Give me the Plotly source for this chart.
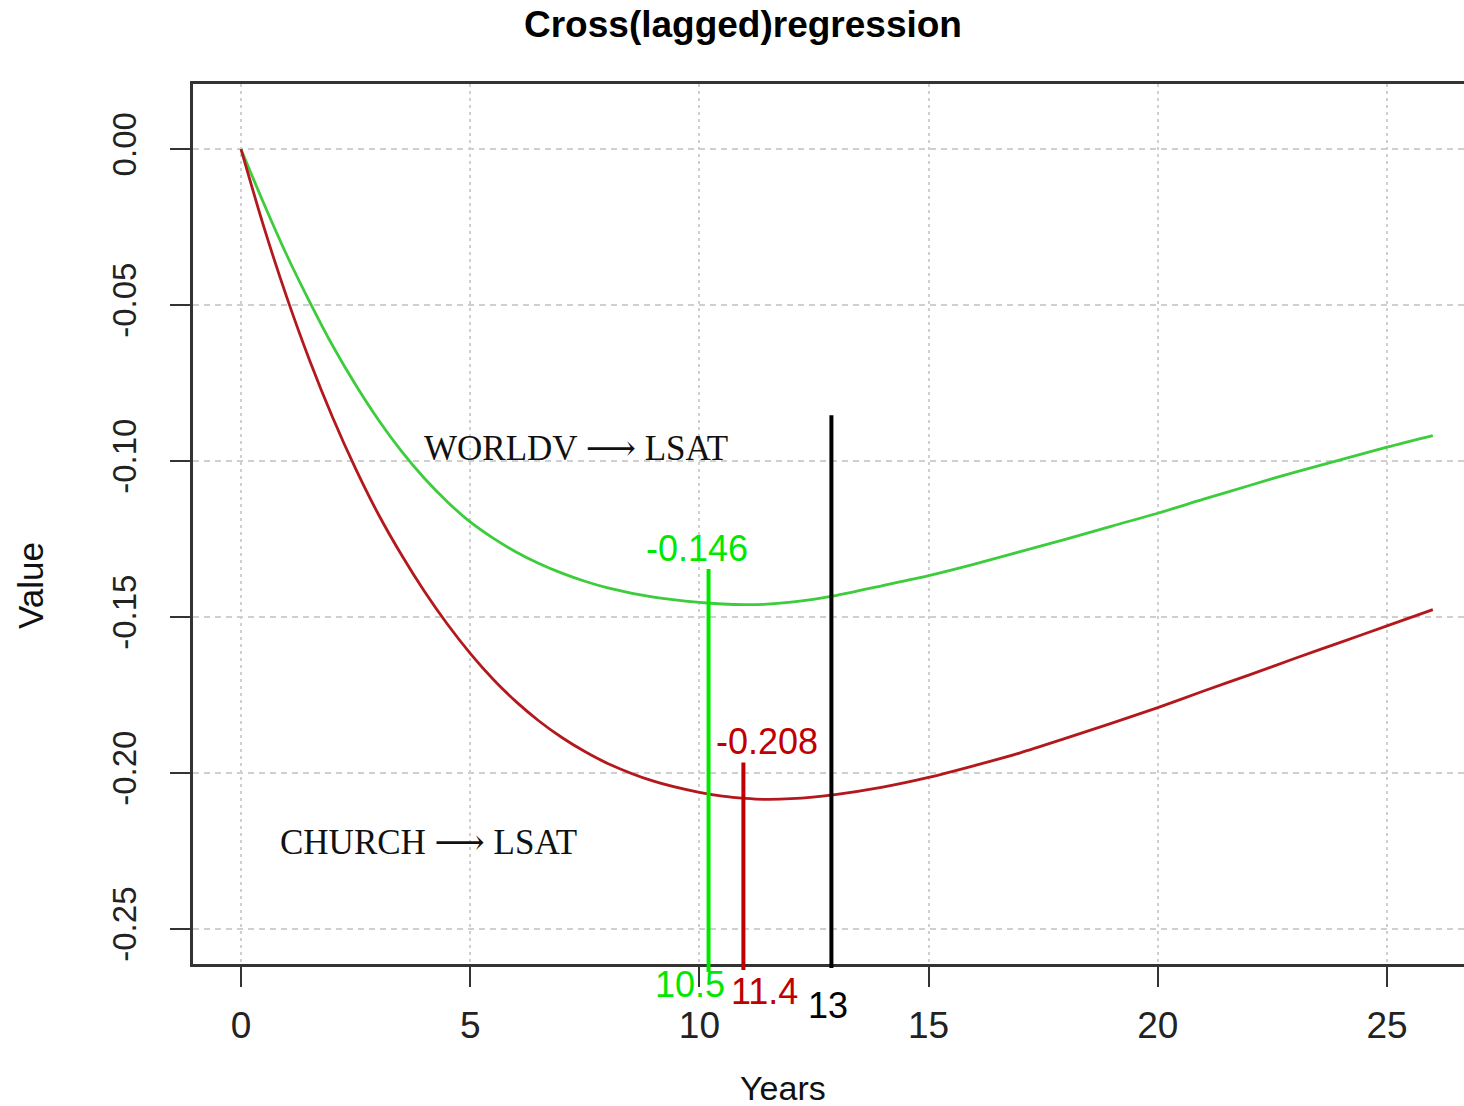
import plotly.graph_objects as go

# ---------------- data ----------------
years = [0, 0.5, 1, 1.5, 2, 2.5, 3, 3.5, 4, 4.5, 5, 5.5, 6, 6.5, 7, 7.5, 8, 9, 10,
         10.5, 11, 11.4, 12, 13, 14, 15, 16, 17, 18, 19, 20, 21, 22, 23, 24, 25, 26]

worldv_lsat = [0.0, -0.0175, -0.0340, -0.0490, -0.0630, -0.0755, -0.0868,
               -0.0968, -0.1055, -0.1130, -0.1195, -0.1247, -0.1291, -0.1328,
               -0.1359, -0.1385, -0.1406, -0.1436, -0.1453, -0.1458, -0.1460,
               -0.1459, -0.1452, -0.1430, -0.1399, -0.1367, -0.1330, -0.1290,
               -0.1250, -0.1208, -0.1167, -0.1122, -0.1078, -0.1035, -0.0995,
               -0.0955, -0.0918]

church_lsat = [0.0, -0.0250, -0.0475, -0.0678, -0.0860, -0.1024, -0.1171,
               -0.1300, -0.1417, -0.1522, -0.1616, -0.1699, -0.1771, -0.1833,
               -0.1886, -0.1931, -0.1969, -0.2026, -0.2062, -0.2074, -0.2081,
               -0.2084, -0.2082, -0.2068, -0.2045, -0.2014, -0.1976, -0.1935,
               -0.1888, -0.1840, -0.1790, -0.1737, -0.1685, -0.1632, -0.1580,
               -0.1528, -0.1476]

x_ticks = [0, 5, 10, 15, 20, 25]
x_tick_labels = ["0", "5", "10", "15", "20", "25"]
y_ticks = [0.0, -0.05, -0.10, -0.15, -0.20, -0.25]
y_tick_labels = ["0.00", "-0.05", "-0.10", "-0.15", "-0.20", "-0.25"]

# marker lines (as drawn in the picture) and their labels
marker_x = [10.2, 10.96, 12.88]
marker_top = [-0.1346, -0.1966, -0.0853]
marker_colors = ["#00e800", "#c00000", "#000000"]
marker_labels = ["10.5", "11.4", "13"]
marker_label_x = [9.80, 11.41, 12.81]
min_labels = ["-0.146", "-0.208"]
min_label_x = [9.95, 11.47]
min_label_y = [-0.128, -0.1898]

X_RANGE = [-1.047, 26.68]
Y_RANGE = [-0.2612, 0.0209]

W, H = 1464, 1106
ML, MR, MT, MB = 193, 0, 84, 142
PH = H - MT - MB


def ypaper_from_px(py):
    return (H - MB - py) / PH


def ypaper_from_val(v):
    return (v - Y_RANGE[0]) / (Y_RANGE[1] - Y_RANGE[0])


SANS = "Liberation Sans, Arial, Helvetica, sans-serif"
SERIF = "Liberation Serif, Times New Roman, DejaVu Serif, serif"

fig = go.Figure()
fig.add_trace(go.Scatter(x=years, y=worldv_lsat, mode="lines",
                         line=dict(color="#3ccc3c", width=2.8, shape="spline", smoothing=0.8),
                         name="WORLDV → LSAT", showlegend=False))
fig.add_trace(go.Scatter(x=years, y=church_lsat, mode="lines",
                         line=dict(color="#b3191c", width=2.8, shape="spline", smoothing=0.8),
                         name="CHURCH → LSAT", showlegend=False))

bottoms_px = [972, 970, 968]
for mx, top, col, bpx in zip(marker_x, marker_top, marker_colors, bottoms_px):
    fig.add_shape(type="line", xref="x", yref="paper",
                  x0=mx, x1=mx, y0=ypaper_from_px(bpx), y1=ypaper_from_val(top),
                  line=dict(color=col, width=4), layer="above")

label_y_px = [984, 991, 1005]
for lab, lx, col, lpy in zip(marker_labels, marker_label_x, marker_colors, label_y_px):
    fig.add_annotation(x=lx, y=ypaper_from_px(lpy), xref="x", yref="paper",
                       text=lab, showarrow=False, borderpad=0,
                       font=dict(family=SANS, size=36, color=col),
                       xanchor="center", yanchor="middle")

for lab, lx, ly, col in zip(min_labels, min_label_x, min_label_y, marker_colors[:2]):
    fig.add_annotation(x=lx, y=ly, xref="x", yref="y", text=lab, showarrow=False,
                       font=dict(family=SANS, size=36, color=col),
                       xanchor="center", yanchor="middle")

fig.add_annotation(x=7.31, y=-0.0959, xref="x", yref="y", text="WORLDV ⟶ LSAT",
                   showarrow=False, font=dict(family=SERIF, size=35, color="#111"),
                   xanchor="center", yanchor="middle")
fig.add_annotation(x=4.08, y=-0.2222, xref="x", yref="y", text="CHURCH ⟶ LSAT",
                   showarrow=False, font=dict(family=SERIF, size=35, color="#111"),
                   xanchor="center", yanchor="middle")

# axis titles and main title
fig.add_annotation(x=(783 - ML) / (W - ML - MR), y=ypaper_from_px(1088),
                   xref="paper", yref="paper", text="Years", showarrow=False,
                   font=dict(family=SANS, size=34, color="#111"),
                   xanchor="center", yanchor="middle")
fig.add_annotation(x=(30 - ML) / (W - ML - MR), y=ypaper_from_px(586),
                   xref="paper", yref="paper", text="Value", showarrow=False,
                   textangle=-90, font=dict(family=SANS, size=35, color="#111"),
                   xanchor="center", yanchor="middle")
fig.add_annotation(x=(743 - ML) / (W - ML - MR), y=ypaper_from_px(25),
                   xref="paper", yref="paper", text="<b>Cross(lagged)regression</b>",
                   showarrow=False, font=dict(family=SANS, size=37, color="#000"),
                   xanchor="center", yanchor="middle")

fig.update_layout(
    width=W, height=H, autosize=False,
    margin=dict(l=ML, r=MR, t=MT, b=MB, pad=0),
    paper_bgcolor="white", plot_bgcolor="white",
    showlegend=False,
)
fig.update_xaxes(range=X_RANGE, tickmode="array", tickvals=x_ticks, ticktext=x_tick_labels,
                 showline=True, linecolor="#333", linewidth=2.5, mirror=True,
                 ticks="outside", ticklen=20, tickwidth=2, tickcolor="#333",
                 ticklabelstandoff=7,
                 tickfont=dict(family=SANS, size=37, color="#222"),
                 showgrid=True, gridcolor="#cfcfcf", gridwidth=2, griddash="3px,4px",
                 zeroline=False)
fig.update_yaxes(range=Y_RANGE, tickmode="array", tickvals=y_ticks, ticktext=y_tick_labels,
                 showline=True, linecolor="#333", linewidth=2.5, mirror=False,
                 ticks="outside", ticklen=20, tickwidth=2, tickcolor="#333",
                 tickangle=-90, ticklabelstandoff=21,
                 tickfont=dict(family=SANS, size=33, color="#222"),
                 showgrid=True, gridcolor="#cfcfcf", gridwidth=2, griddash="6px,5px",
                 zeroline=False)

fig.write_html("out.html")
